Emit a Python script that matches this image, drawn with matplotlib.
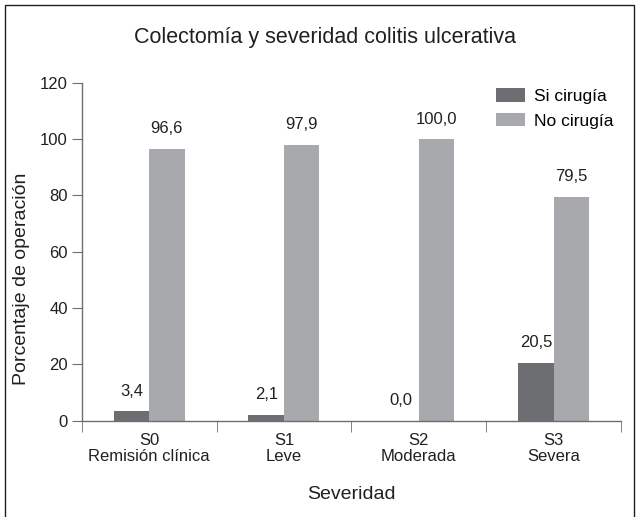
import numpy as np
import matplotlib.pyplot as plt
from matplotlib import font_manager
from matplotlib.patches import Rectangle

# pick a narrow font if there is one
names = {f.name for f in font_manager.fontManager.ttflist}
fam = 'Liberation Sans Narrow' if 'Liberation Sans Narrow' in names else 'Liberation Sans'
plt.rcParams['font.family'] = [fam, 'DejaVu Sans']

categories = ['S0\nRemisión clínica', 'S1\nLeve', 'S2\nModerada', 'S3\nSevera']
si_cirugia = [3.4, 2.1, 0.0, 20.5]
no_cirugia = [96.6, 97.9, 100.0, 79.5]
series_names = ['Si cirugía', 'No cirugía']
yticks = [0, 20, 40, 60, 80, 100, 120]

dark = '#6d6e71'
light = '#a7a9ac'
axis_col = '#6d6e71'
txt = '#231f20'

W, H = 639, 517
fig = plt.figure(figsize=(W / 100, H / 100), dpi=100)
ax = fig.add_axes([81.7 / W, 1 - 420.7 / H, (621 - 81.7) / W, (420.7 - 82.7) / H])

x = np.arange(len(categories))
w = 0.263
b1 = ax.bar(x - w / 2, si_cirugia, w, color=dark, label=series_names[0])
b2 = ax.bar(x + w / 2, no_cirugia, w, color=light, label=series_names[1])

for bars, vals in ((b1, si_cirugia), (b2, no_cirugia)):
    for r, v in zip(bars, vals):
        ax.annotate('{:.1f}'.format(v).replace('.', ','),
                    (r.get_x() + r.get_width() / 2, v),
                    xytext=(0, 9), textcoords='offset points',
                    ha='center', va='bottom', fontsize=12, color=txt)

ax.set_xlim(-0.5, len(categories) - 0.5)
ax.set_ylim(0, 120)
ax.set_yticks(yticks)
ax.set_xticks(x)
ax.set_xticklabels(categories, fontsize=12, color=txt, linespacing=1.05)
ax.set_xticks(np.arange(-0.5, len(categories)), minor=True)
ax.tick_params(axis='x', which='major', length=0, pad=9)
ax.tick_params(axis='x', which='minor', length=8, color=axis_col, direction='out')
ax.tick_params(axis='y', length=7, color=axis_col, labelsize=12, labelcolor=txt, pad=3)

for s in ['top', 'right']:
    ax.spines[s].set_visible(False)
for s in ['left', 'bottom']:
    ax.spines[s].set_color(axis_col)
    ax.spines[s].set_linewidth(1.0)

ax.set_ylabel('Porcentaje de operación', fontsize=14, color=txt)
ax.yaxis.set_label_coords(-0.096, 0.42)
ax.set_xlabel('Severidad', fontsize=14, color=txt, labelpad=16)

fig.legend(loc='upper left', bbox_to_anchor=(496 / W, 1 - 88 / H), frameon=False,
           fontsize=12.5, handlelength=1.65, handleheight=0.85, handletextpad=0.55,
           labelspacing=0.5, borderpad=0, borderaxespad=0)

fig.text(0.508, 0.927, 'Colectomía y severidad colitis ulcerativa',
         ha='center', va='center', fontsize=15.5, color=txt)

# outer frame
fig.patches.append(Rectangle((5 / W, -0.01), 629 / W, 1 - 5 / H + 0.01,
                             transform=fig.transFigure, fill=False,
                             edgecolor=txt, linewidth=1.0))

fig.savefig('out.png', dpi=100)
